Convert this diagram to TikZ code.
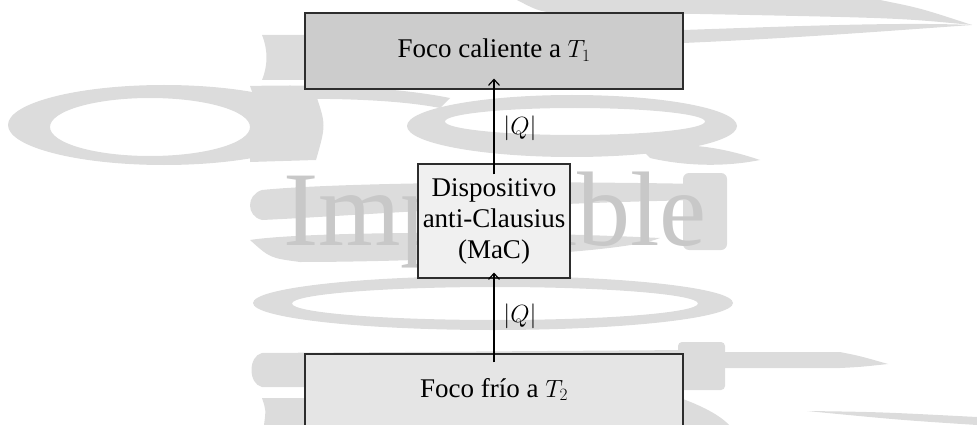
\documentclass[tikz,border=0pt]{standalone}
\usepackage[no-math]{fontspec}
\setmainfont{Liberation Serif}
\usetikzlibrary{arrows.meta}
\definecolor{wm}{RGB}{220,220,220}
\definecolor{wmtext}{RGB}{200,200,200}
\definecolor{hotfill}{RGB}{204,204,204}
\definecolor{midfill}{RGB}{240,240,240}
\definecolor{coldfill}{RGB}{229,229,229}
\definecolor{edgecol}{RGB}{45,45,45}
\begin{document}
\begin{tikzpicture}[x=1pt,y=-1pt,
  wmshape/.style={fill=wm},
  box/.style={draw=edgecol, line width=1.1pt, inner sep=0pt, font=\fontsize{27}{31}\selectfont},
  flow/.style={line width=1.2pt, -{Straight Barb[length=6pt,width=11pt]}},
  qlabel/.style={font=\fontsize{27}{31}\selectfont, inner sep=0pt}]
\useasboundingbox (0,0) rectangle (977,425);
\clip (0,0) rectangle (977,425);
% ---- watermark swooshes ----
\fill[wmshape, even odd rule] (164,125) ellipse [x radius=156pt, y radius=40pt]
      (150,127) ellipse [x radius=100pt, y radius=29pt];
\fill[wmshape] (250,95) -- (316,95) .. controls (326,125) .. (316,160) -- (250,162) -- cycle;
\fill[wmshape] (250,86) .. controls (330,84) and (400,88) .. (450,98) -- (440,108) .. controls (400,100) and (330,97) .. (255,100) -- cycle;
\fill[wmshape] (262,35) .. controls (268,50) and (268,65) .. (262,80) -- (330,80) -- (330,35) -- cycle;
\fill[wmshape, even odd rule] (572,126) ellipse [x radius=165pt, y radius=31pt]
      (575,121.5) ellipse [x radius=130pt, y radius=13.5pt];
\fill[wmshape] (640,148) .. controls (690,140) and (730,150) .. (760,160) .. controls (720,168) and (680,165) .. (650,158) -- cycle;
\fill[wmshape] (517,0) -- (880,0) .. controls (920,8) .. (972,25) .. controls (900,18) .. (700,14) -- (570,14) .. controls (540,12) .. (517,0) -- cycle;
\fill[wmshape] (640,30) -- (683,30) .. controls (800,26) and (900,22) .. (972,25) .. controls (900,30) and (800,38) .. (683,43) -- (640,43) -- cycle;
\fill[wmshape] (700,184) .. controls (500,180) and (320,184) .. (262,190) .. controls (246,195) and (246,216) .. (262,220) .. controls (350,216) and (500,204) .. (700,200) -- cycle;
\fill[wmshape] (250,240) .. controls (300,232) and (500,230) .. (660,238) .. controls (620,255) and (400,262) .. (300,262) .. controls (270,258) .. (250,240) -- cycle;
\fill[wmshape, rounded corners=6pt] (683,173) rectangle (727,250);
\fill[wmshape, even odd rule] (493,303) ellipse [x radius=240pt, y radius=27pt]
      (495,303.5) ellipse [x radius=203pt, y radius=16.5pt];
\fill[wmshape] (262,353) -- (690,350) -- (690,388) -- (262,387) .. controls (248,384) and (248,356) .. (262,353) -- cycle;
\fill[wmshape, rounded corners=4pt] (678,342) rectangle (725,390);
\fill[wmshape] (720,352) -- (840,352) .. controls (860,356) .. (888,364) .. controls (860,367) .. (840,368) -- (720,368) -- cycle;
\fill[wmshape] (807,411) .. controls (880,412) .. (977,417) -- (977,425) .. controls (900,420) .. (807,411) -- cycle;
\fill[wmshape] (262,398) .. controls (266,410) .. (264,425) -- (310,425) -- (310,398) -- cycle;
\fill[wmshape] (680,398) .. controls (700,405) and (720,415) .. (729,425) -- (680,425) -- cycle;
\node[anchor=base, text=wmtext, font=\fontsize{106}{106}\selectfont, inner sep=0pt] (wmword) at (495,245) {Imposible};
% ---- boxes ----
\node[box, fill=hotfill, minimum width=378pt, minimum height=76pt, text height=14pt, text depth=0pt] (hot) at (494,51) {Foco caliente a $T_1$};
\node[box, fill=midfill, minimum width=152pt, minimum height=114pt, align=center] (dev) at (494,221) {Dispositivo\\anti-Clausius\\(MaC)};
\node[box, fill=coldfill, minimum width=378pt, minimum height=86pt, text height=9pt, text depth=9pt] (cold) at (494,397) {Foco frío a $T_2$};
% ---- connectors ----
\draw[flow, shorten <=-11pt, shorten >=-11pt] (dev.north) -- (hot.south);
\draw[flow, shorten <=-9pt, shorten >=-6pt] (cold.north) -- (dev.south);
\node[qlabel] (q1) at (520,128) {$|Q|$};
\node[qlabel] (q2) at (520,316) {$|Q|$};
\end{tikzpicture}
\end{document}
